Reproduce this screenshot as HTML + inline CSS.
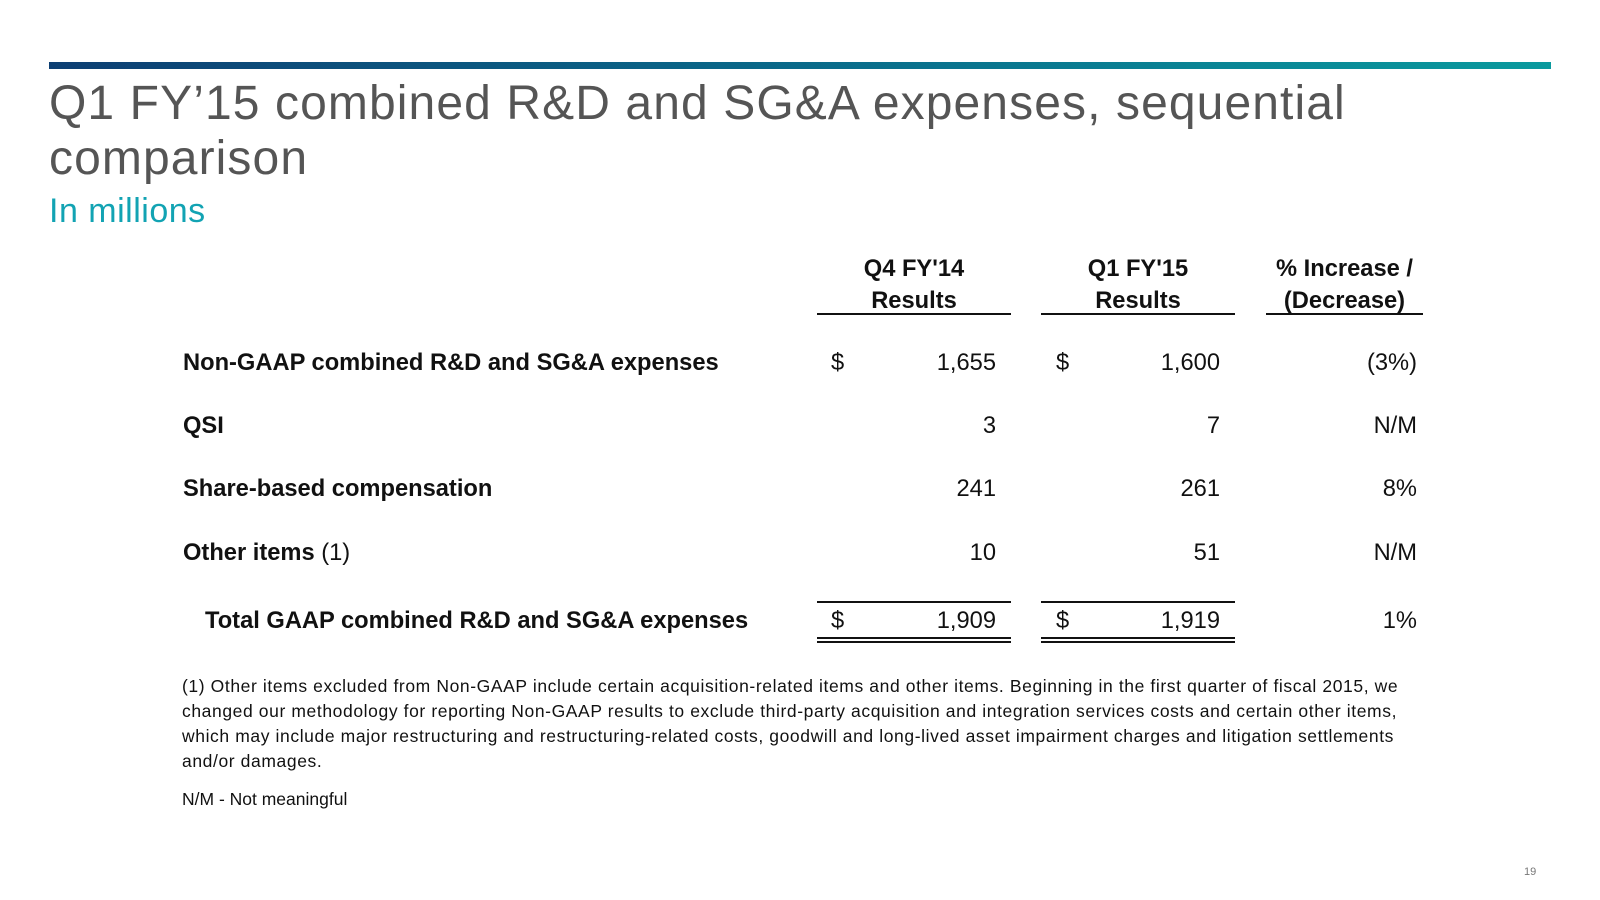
<!DOCTYPE html>
<html><head><meta charset="utf-8"><style>
body{margin:0;width:1600px;height:900px;background:#fff;position:relative;overflow:hidden;font-family:"Liberation Sans",Arial,sans-serif}
.a{position:absolute;white-space:nowrap}
.b{font-weight:bold;font-size:23.7px;color:#111}
.n{font-size:23.7px;color:#111;text-align:right}
.ln{position:absolute;height:2px;background:#111}
</style></head><body>
<div class="a" style="left:49px;top:62px;width:1502px;height:7px;background:linear-gradient(90deg,#0d3f73,#0a6a8a 50%,#0a9a9e)"></div>
<div class="a" style="left:49px;top:76px;font-size:48px;line-height:55px;color:#555;white-space:normal;width:1450px;letter-spacing:1.1px">Q1 FY’15 combined R&amp;D and SG&amp;A expenses, sequential<br>comparison</div>
<div class="a" style="left:49px;top:192px;font-size:34px;color:#12a3b3;letter-spacing:0.5px">In millions</div>

<div class="a b" style="left:817px;top:253px;width:194px;text-align:center;line-height:32px">Q4 FY'14<br>Results</div>
<div class="a b" style="left:1041px;top:253px;width:194px;text-align:center;line-height:32px">Q1 FY'15<br>Results</div>
<div class="a b" style="left:1266px;top:253px;width:157px;text-align:center;line-height:32px">% Increase /<br>(Decrease)</div>
<div class="ln" style="left:817px;top:313px;width:194px"></div>
<div class="ln" style="left:1041px;top:313px;width:194px"></div>
<div class="ln" style="left:1266px;top:313px;width:157px"></div>

<div id="rows"></div>

<div class="ln" style="left:817px;top:601px;width:194px"></div>
<div class="ln" style="left:1041px;top:601px;width:194px"></div>
<div class="ln" style="left:817px;top:637px;width:194px"></div>
<div class="ln" style="left:817px;top:641px;width:194px"></div>
<div class="ln" style="left:1041px;top:637px;width:194px"></div>
<div class="ln" style="left:1041px;top:641px;width:194px"></div>

<div class="a" style="left:182px;top:674px;font-size:17.5px;line-height:25px;color:#111;white-space:normal;width:1225px;letter-spacing:0.6px">(1) Other items excluded from Non-GAAP include certain acquisition-related items and other items. Beginning in the first quarter of fiscal 2015, we changed our methodology for reporting Non-GAAP results to exclude third-party acquisition and integration services costs and certain other items, which may include major restructuring and restructuring-related costs, goodwill and long-lived asset impairment charges and litigation settlements and/or damages.</div>
<div class="a" style="left:182px;top:789px;font-size:17.5px;color:#111">N/M - Not meaningful</div>
<div class="a" style="left:1524px;top:866px;font-size:11px;color:#777">19</div>

<script>
const labels=["Non-GAAP combined R&D and SG&A expenses","QSI","Share-based compensation","Other items","Total GAAP combined R&D and SG&A expenses"];
const q4=["1,655","3","241","10","1,909"];
const q1=["1,600","7","261","51","1,919"];
const chg=["(3%)","N/M","8%","N/M","1%"];
const dollar=[true,false,false,false,true];
const tops=[350,413,476,540,608];
const root=document.getElementById('rows');
function mk(cls,style,text){const d=document.createElement('div');d.className='a '+cls;d.style.cssText=style;d.textContent=text;root.appendChild(d);return d;}
labels.forEach((l,i)=>{
 const t=tops[i];
 const lab=mk('b','left:'+(i==4?205:183)+'px;top:'+t+'px',l);
 
 
 if(i==3){const s=document.createElement('span');s.style.fontWeight='normal';s.textContent=' (1)';lab.appendChild(s);}
 const a=mk('n','left:817px;width:179px;top:'+t+'px',q4[i]);
 
 
 const b=mk('n','left:1041px;width:179px;top:'+t+'px',q1[i]);
 
 
 const c=mk('n','left:1266px;width:151px;top:'+t+'px',chg[i]);
 
 
 if(dollar[i]){
  const d1=mk('n','left:831px;top:'+t+'px','$');
  
  
  const d2=mk('n','left:1056px;top:'+t+'px','$');
  
  
 }
});
</script>
</body></html>
